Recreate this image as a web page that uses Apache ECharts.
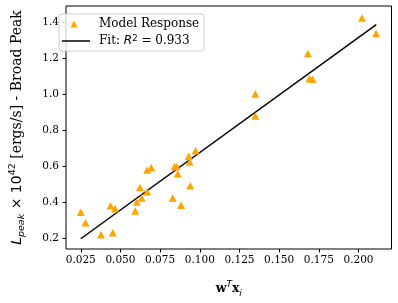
<!DOCTYPE html>
<html>
<head>
<meta charset="utf-8">
<script src="https://cdn.jsdelivr.net/npm/echarts@6/dist/echarts.min.js"></script>
<style>html,body{margin:0;padding:0;background:#fff}#c{width:398px;height:303px}</style>
</head>
<body>
<div id="c"></div>
<script>
// Data
var xVals = [0.025,0.028,0.0377,0.0452,0.0438,0.0466,0.0593,0.0603,0.0623,0.0634,0.0668,0.0694,0.0668,0.0841,0.0855,0.0861,0.0829,0.0882,0.0930,0.0936,0.0940,0.0973,0.2022,0.2111,0.1681,0.1691,0.1711,0.1350,0.1350];
var yVals = [0.345,0.287,0.220,0.231,0.382,0.365,0.352,0.402,0.483,0.425,0.581,0.595,0.459,0.600,0.600,0.559,0.425,0.384,0.657,0.625,0.493,0.688,1.426,1.340,1.229,1.088,1.085,1.003,0.881];
var fitX = [0.025, 0.2112];
var fitY = [0.198, 1.389];
var xTicks = [0.025,0.050,0.075,0.100,0.125,0.150,0.175,0.200];
var yTicks = [0.2,0.4,0.6,0.8,1.0,1.2,1.4];
var seriesNames = ['Model Response', 'Fit'];

var serif = 'DejaVu Serif';
var sans = 'DejaVu Sans';
var pts = xVals.map(function(x,i){return [x,yVals[i]];});
var fitPts = fitX.map(function(x,i){return [x,fitY[i]];});

var chart = echarts.init(document.getElementById('c'), null, {renderer:'canvas'});
chart.setOption({
  animation:false,
  backgroundColor:'#fff',
  grid:{left:53,right:6.5,top:6,bottom:45,show:true,borderColor:'#000',borderWidth:1,backgroundColor:'transparent'},
  xAxis:{
    type:'value', min:0.0157, max:0.2208,
    name:'{b|w}{sup|T}{b|x}{sub|i}',
    nameLocation:'middle', nameGap:31,
    nameTextStyle:{
      rich:{
        b:{fontFamily:serif,fontWeight:'bold',fontSize:12.5,color:'#000',lineHeight:18},
        sup:{fontFamily:sans,fontStyle:'italic',fontSize:9,color:'#000',verticalAlign:'top',lineHeight:9},
        sub:{fontFamily:sans,fontStyle:'italic',fontSize:9,color:'#000',verticalAlign:'bottom',lineHeight:9}
      }
    },
    axisLine:{show:false},
    axisTick:{show:true,length:3.5,lineStyle:{color:'#000',width:1},customValues:xTicks},
    axisLabel:{customValues:xTicks,fontFamily:serif,fontSize:10.5,color:'#000',margin:6,
      formatter:function(v){return v.toFixed(3);}},
    splitLine:{show:false}
  },
  yAxis:{
    type:'value', min:0.141, max:1.493,
    name:'{it|L}{sub|peak}{m| × 10}{sup|42}{s| [ergs/s] - Broad Peak}',
    nameLocation:'middle', nameGap:39,
    nameTextStyle:{
      rich:{
        it:{fontFamily:sans,fontStyle:'italic',fontSize:14,color:'#000',lineHeight:19},
        m:{fontFamily:sans,fontSize:14,color:'#000',lineHeight:19},
        s:{fontFamily:serif,fontSize:14,color:'#000',lineHeight:19},
        sub:{fontFamily:sans,fontStyle:'italic',fontSize:9.5,color:'#000',verticalAlign:'bottom',lineHeight:9},
        sup:{fontFamily:sans,fontSize:9.5,color:'#000',verticalAlign:'top',lineHeight:9}
      }
    },
    axisLine:{show:false},
    axisTick:{show:true,length:3.5,lineStyle:{color:'#000',width:1},customValues:yTicks},
    axisLabel:{customValues:yTicks,fontFamily:serif,fontSize:10.5,color:'#000',margin:7,
      formatter:function(v){return v.toFixed(1);}},
    splitLine:{show:false}
  },
  legend:{
    orient:'vertical', left:59, top:14,
    padding:[4,5,4,3], itemGap:4,
    itemWidth:28, itemHeight:8,
    backgroundColor:'rgba(255,255,255,0.8)', borderColor:'#ccc', borderWidth:1, borderRadius:3,
    data:[
      {name:seriesNames[0], icon:'path://M0,0M28,8M8.5,7.5L12,0.5L15.5,7.5Z'},
      {name:seriesNames[1], icon:'path://M0,0M28,8M0,3.25L28,3.25L28,4.75L0,4.75Z'}
    ],
    formatter:function(n){ return n===seriesNames[1] ? '{a|Fit: }{i|R}{sup|2}{a| = 0.933}' : '{a|'+n+'}'; },
    textStyle:{
      fontFamily:serif,fontSize:12,color:'#000',padding:[0,0,0,4],
      rich:{
        a:{fontFamily:serif,fontSize:12,color:'#000',lineHeight:14},
        i:{fontFamily:sans,fontStyle:'italic',fontSize:12,color:'#000',lineHeight:14},
        sup:{fontFamily:sans,fontSize:8.5,color:'#000',verticalAlign:'top',lineHeight:8}
      }
    }
  },
  series:[
    {name:seriesNames[0],type:'scatter',data:pts,symbol:'triangle',symbolSize:[8,7.5],
      itemStyle:{color:'#FFA500',opacity:1},z:3},
    {name:seriesNames[1],type:'line',data:fitPts,symbol:'none',showSymbol:false,
      lineStyle:{color:'#000',width:1.5},itemStyle:{color:'#000'},z:2}
  ]
});
</script>
</body>
</html>
